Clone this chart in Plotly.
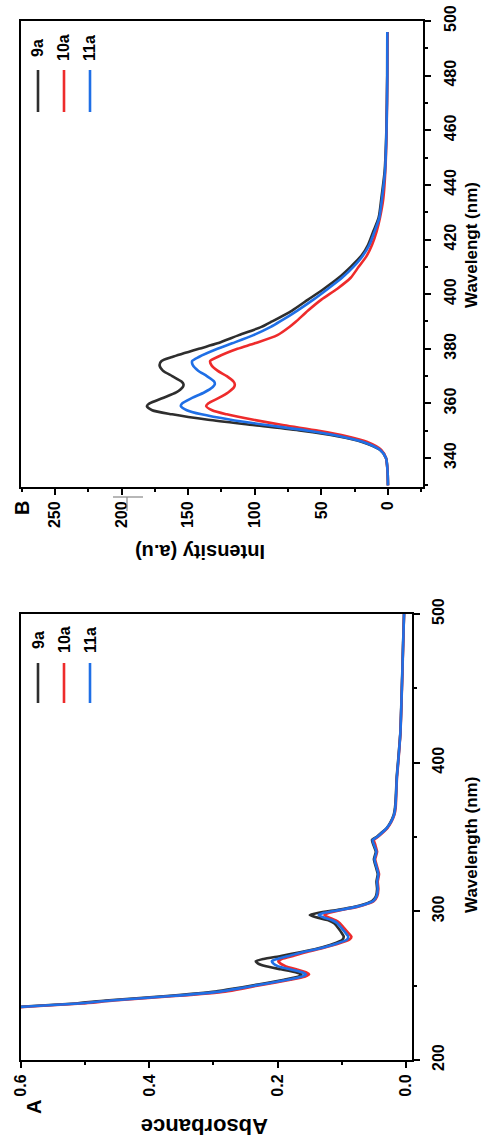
import plotly.graph_objects as go

W, H = 484, 1145

# ---------------- Panel B : fluorescence (Intensity vs Wavelength) ----------------
B_wavelength = [330, 335, 340, 343, 346, 348, 350, 352, 354, 356, 357.5, 359, 360, 362, 364, 366, 367, 368,
                370, 372, 374, 375.5, 377, 380, 382, 385, 388, 390, 394, 398, 402, 406, 410, 414, 418, 423,
                428, 435, 445, 460, 480, 496]
B_9a = [0, 0.3, 1.5, 6, 20, 38, 65, 100, 135, 162, 177, 181, 179, 169, 159, 154, 153.5, 155,
        162, 169, 171.5, 170, 162, 142, 128, 112, 95, 87, 72, 60, 48, 37, 28, 20, 15, 11,
        7, 5, 2.5, 1.2, 0.6, 0.5]
B_10a = [0, 0.3, 1.5, 5, 16, 31, 52, 78, 101, 121, 132, 136.5, 135, 127, 120, 115.5, 115, 116,
         121, 128, 132.5, 133.5, 128, 113, 100, 83, 74, 69, 60, 50, 38, 28, 22, 16, 12, 8.5,
         6, 3.5, 2, 1, 0.5, 0.4]
B_11a = [0, 0.3, 1.5, 6, 19, 36, 60, 90, 118, 140, 151, 155.5, 154.5, 147, 138, 131.5, 130, 130.5,
         136, 142.5, 146.5, 147, 142, 128, 117, 101, 88, 81, 68, 56, 45, 34.5, 26, 19, 14, 10,
         6.5, 4.5, 2.2, 1.1, 0.5, 0.5]
B_int_ticks = [0, 50, 100, 150, 200, 250]
B_wl_ticks = [340, 360, 380, 400, 420, 440, 460, 480, 500]

# ---------------- Panel A : absorbance (Absorbance vs Wavelength) ----------------
A_wavelength = [234, 236, 238, 240, 243, 246, 248, 250, 252, 254, 256, 257.5, 259, 261, 263, 265, 266.5,
                268, 270, 272.5, 275, 278, 281, 283, 286, 289, 292, 294, 296, 297.5, 299, 301, 303, 305,
                307, 310, 315, 320, 325, 330, 335, 340, 345, 348, 350, 353, 356, 360, 365, 370, 380, 390,
                400, 420, 440, 460, 480, 500]
A_9a = [0.66, 0.595, 0.515, 0.468, 0.373, 0.297, 0.268, 0.242, 0.215, 0.19, 0.168, 0.163, 0.172, 0.195,
        0.218, 0.231, 0.234, 0.222, 0.195, 0.165, 0.138, 0.114, 0.099, 0.097, 0.101, 0.106, 0.112, 0.121,
        0.14, 0.15, 0.136, 0.106, 0.08, 0.064, 0.053, 0.047, 0.045, 0.046, 0.044, 0.047, 0.05, 0.047,
        0.051, 0.053, 0.046, 0.038, 0.03, 0.024, 0.019, 0.017, 0.0155, 0.0145, 0.0125, 0.0088, 0.0072,
        0.0058, 0.0045, 0.003]
A_10a = [0.66, 0.585, 0.505, 0.455, 0.36, 0.282, 0.255, 0.232, 0.205, 0.18, 0.158, 0.151, 0.156, 0.171,
         0.187, 0.196, 0.199, 0.193, 0.176, 0.156, 0.132, 0.107, 0.088, 0.085, 0.091, 0.097, 0.103, 0.11,
         0.121, 0.127, 0.12, 0.099, 0.076, 0.06, 0.05, 0.045, 0.043, 0.044, 0.042, 0.045, 0.048, 0.045,
         0.048, 0.05, 0.044, 0.036, 0.029, 0.023, 0.018, 0.016, 0.015, 0.014, 0.012, 0.0086, 0.007,
         0.0056, 0.0043, 0.003]
A_11a = [0.66, 0.59, 0.51, 0.46, 0.366, 0.29, 0.262, 0.237, 0.21, 0.185, 0.163, 0.156, 0.162, 0.181,
         0.199, 0.207, 0.209, 0.2, 0.183, 0.161, 0.135, 0.11, 0.092, 0.09, 0.095, 0.101, 0.107, 0.115,
         0.129, 0.136, 0.128, 0.102, 0.078, 0.062, 0.051, 0.046, 0.044, 0.045, 0.043, 0.046, 0.049, 0.046,
         0.05, 0.052, 0.045, 0.037, 0.03, 0.0235, 0.0185, 0.0165, 0.0152, 0.0142, 0.0122, 0.0087, 0.0071,
         0.0057, 0.0044, 0.003]
A_abs_ticks = [0.0, 0.2, 0.4, 0.6]
A_abs_labels = ["0.0", "0.2", "0.4", "0.6"]
A_wl_ticks = [200, 300, 400, 500]

series_names = ["9a", "10a", "11a"]
colors = ["#2e2e2e", "#ee2b2b", "#1f6fe6"]


def px(x):
    return x / W


def py(y):
    return 1 - y / H


FONT = "Liberation Sans, Arial, sans-serif"

fig = go.Figure()

for name, vals, c in zip(series_names, [B_9a, B_10a, B_11a], colors):
    fig.add_trace(go.Scatter(x=vals, y=B_wavelength, mode="lines", name=name,
                             line=dict(color=c, width=2.6, shape="spline", smoothing=0.7),
                             xaxis="x", yaxis="y", showlegend=False, hoverinfo="skip"))
for name, vals, c in zip(series_names, [A_9a, A_10a, A_11a], colors):
    fig.add_trace(go.Scatter(x=vals, y=A_wavelength, mode="lines", name=name,
                             line=dict(color=c, width=2.6, shape="spline", smoothing=0.5),
                             xaxis="x2", yaxis="y2", showlegend=False, hoverinfo="skip"))

tickfont = dict(family=FONT, size=16, color="black", weight="bold")
common = dict(showline=True, linewidth=2, linecolor="black", mirror=True, ticks="outside",
              ticklen=6, tickwidth=2, tickcolor="black", showgrid=False, zeroline=False,
              tickangle=-90, tickfont=tickfont, automargin=False)

fig.update_layout(
    template="none",
    width=W, height=H,
    margin=dict(l=0, r=0, t=0, b=0, autoexpand=False),
    paper_bgcolor="white", plot_bgcolor="white",
    xaxis=dict(domain=[px(21), px(423)], anchor="y", range=[275.5, -26.3],
               tickmode="array", tickvals=B_int_ticks,
               minor=dict(ticks="outside", ticklen=3, tickwidth=2, tickcolor="black", dtick=25, tick0=0),
               **common),
    yaxis=dict(domain=[py(487), py(21)], anchor="x", side="right", range=[329.4, 500],
               tickmode="array", tickvals=B_wl_ticks, ticklabelstandoff=6,
               minor=dict(ticks="outside", ticklen=3, tickwidth=2, tickcolor="black", dtick=10, tick0=0),
               **common),
    xaxis2=dict(domain=[px(21), px(412)], anchor="y2", range=[0.6, -0.0094],
                tickmode="array", tickvals=A_abs_ticks, ticktext=A_abs_labels,
                minor=dict(ticks="outside", ticklen=3, tickwidth=2, tickcolor="black", dtick=0.1, tick0=0),
                **common),
    yaxis2=dict(domain=[py(1060), py(614)], anchor="x2", side="right", range=[200, 500],
                tickmode="array", tickvals=A_wl_ticks, ticklabelstandoff=5,
                minor=dict(ticks="outside", ticklen=3, tickwidth=2, tickcolor="black", dtick=50, tick0=0),
                **common),
)

annots = []


def add_text(text, x, y, size, angle):
    annots.append(dict(text=text, x=px(x), y=py(y), xref="paper", yref="paper",
                       xanchor="center", yanchor="middle", showarrow=False, textangle=angle,
                       font=dict(family=FONT, size=size, color="black", weight="bold")))


add_text("Wavelengt (nm)", 472, 245, 17, -90)
add_text("Wavelength (nm)", 471, 845, 17, -90)
add_text("Intensity (a.u)", 200, 552, 20, 180)
add_text("Absorbance", 205, 1127, 22, 180)
add_text("B", 22, 508, 20, -90)
add_text("A", 34, 1107, 20, -90)

shapes = []
legend_x = [38, 64, 90]
# legend for panel B
for lx, name, c in zip(legend_x, series_names, colors):
    shapes.append(dict(type="line", xref="paper", yref="paper", x0=px(lx), x1=px(lx),
                       y0=py(70), y1=py(112), line=dict(color=c, width=2.6)))
    add_text(name, lx, 48, 16, -90)
# legend for panel A
for lx, name, c in zip(legend_x, series_names, colors):
    shapes.append(dict(type="line", xref="paper", yref="paper", x0=px(lx), x1=px(lx),
                       y0=py(663), y1=py(703), line=dict(color=c, width=2.6)))
    add_text(name, lx, 640, 16, -90)

# small stray mark next to the "200" label in panel B
shapes.append(dict(type="line", xref="paper", yref="paper", x0=px(113), x1=px(143),
                   y0=py(497), y1=py(497), line=dict(color="#888888", width=1.2)))
shapes.append(dict(type="line", xref="paper", yref="paper", x0=px(127), x1=px(127),
                   y0=py(497), y1=py(511), line=dict(color="#888888", width=1.2)))

fig.update_layout(annotations=annots, shapes=shapes)

fig.write_html("out.html", config={"displayModeBar": False, "staticPlot": True},
               post_script="document.body.style.margin='0';document.body.style.padding='0';"
                           "document.body.style.overflow='hidden';")
